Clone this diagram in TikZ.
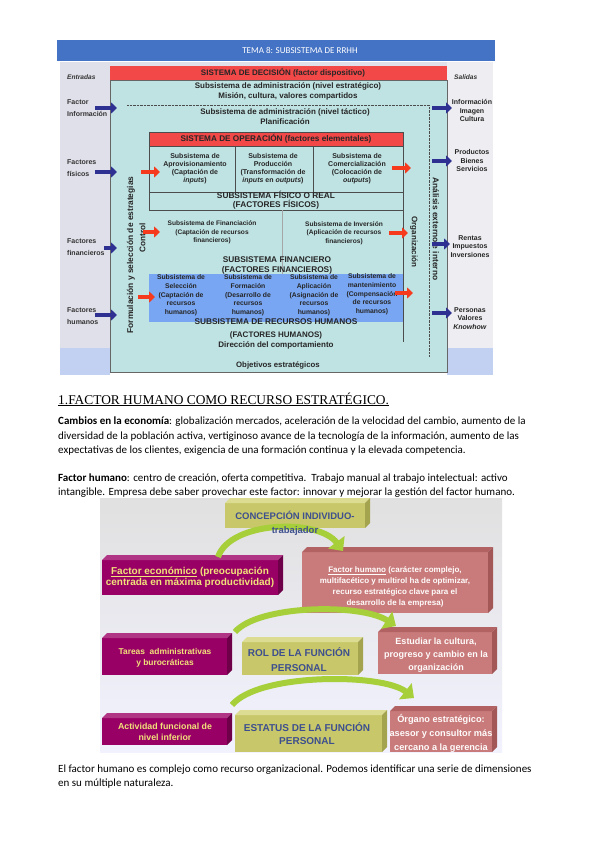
\documentclass[tikz,border=0pt]{standalone}
\usepackage{fontspec}
\setmainfont{Carlito}
\newfontfamily\arf{Liberation Sans}
\newfontfamily\serf{Liberation Serif}
\usetikzlibrary{arrows.meta,calc}
\definecolor{titleblue}{HTML}{4472C4}
\definecolor{decred}{HTML}{F24848}
\definecolor{cyanlight}{HTML}{BFE2E2}
\definecolor{humblue}{HTML}{78A6F2}
\definecolor{arrowblue}{HTML}{2E3192}
\definecolor{arrowred}{HTML}{F53A1E}
\definecolor{lgray}{HTML}{E0E0EA}
\definecolor{lgray2}{HTML}{EEEEF2}
\definecolor{lstrip}{HTML}{C2D0F2}
\definecolor{khaki}{HTML}{C8C86A}
\definecolor{khakitop}{HTML}{DCDC92}
\definecolor{khakiside}{HTML}{A4A44E}
\definecolor{magfront}{HTML}{990066}
\definecolor{magtop}{HTML}{B03585}
\definecolor{magside}{HTML}{6E0049}
\definecolor{pinkfront}{HTML}{C97B7B}
\definecolor{pinktop}{HTML}{B26262}
\definecolor{pinkside}{HTML}{A35757}
\definecolor{magtext}{HTML}{F2E27A}
\definecolor{khtext}{HTML}{3E4F8E}
\definecolor{arrowgreen}{HTML}{A6CF3A}
\newcommand\threeD[3]{%
  \fill[#2] (#1.north west) -- ([shift={(5,-5)}]#1.north west) -- ([shift={(5,-5)}]#1.north east) -- (#1.north east) -- cycle;
  \fill[#3] (#1.north east) -- ([shift={(5,-5)}]#1.north east) -- ([shift={(5,-5)}]#1.south east) -- (#1.south east) -- cycle;}
\newcommand\fs[2]{\arf\bfseries\fontsize{#1}{#2}\selectfont}
\begin{document}
\begin{tikzpicture}[x=1pt,y=-1pt,
  box/.style={anchor=north west, inner sep=0, outer sep=0},
  dt/.style={font=\fs{7}{8}, inner sep=0, align=center, text=black!85},
  ht/.style={font=\fs{6.8}{8.7}, inner sep=0, align=center, text=black!85},
  lt/.style={font=\fs{7}{12}, inner sep=0, align=left, anchor=west, text=black!80},
  rt/.style={font=\fs{7}{8.5}, inner sep=0, align=center, text=black!85},
  rot/.style={font=\fs{8.2}{9}, inner sep=0, text=black!85},
  barr/.style={draw=arrowblue, line width=3.5pt, -{Triangle[length=6pt,width=11pt]}},
  rarr/.style={draw=arrowred, line width=4pt, -{Triangle[length=6pt,width=11pt]}},
  garr/.style={draw=arrowgreen, line width=6pt, -{Triangle[length=11pt,width=20pt]}},
  magbox/.style={box, fill=magfront},
  khbox/.style={box, fill=khaki},
  pkbox/.style={box, fill=pinkfront},
  magt/.style={inner sep=0, text=magtext, align=center},
  kht/.style={inner sep=0, text=khtext, align=center},
  pkt/.style={inner sep=0, text=white!95!pink, align=center},
  para/.style={anchor=base west, inner sep=0, font=\fontsize{11}{13}\selectfont}
]
\useasboundingbox (0,0) rectangle (599,848);
\fill[white] (0,0) rectangle (599,848);

% ---------- title bar
\node[box, fill=titleblue, minimum width=438, minimum height=21] (bar) at (57,40) {};
\node[inner sep=0, text=white, font=\fontsize{9}{10}\selectfont] (bartxt) at (300,50.5) {TEMA 8: SUBSISTEMA DE RRHH};

% ---------- top diagram background
\fill[lgray] (60,62) rectangle (110,375);
\fill[lgray2] (447,62) rectangle (493,375);
\fill[lstrip] (60,348) rectangle (110,375);
\fill[lstrip] (447,348) rectangle (493,375);
\fill[lgray] (110,62) rectangle (447,66);

\node[box, fill=decred, minimum width=337, minimum height=14] (dec) at (110,66) {};
\node[dt, font=\fs{8}{9}] (dectxt) at (283,73) {SISTEMA DE DECISIÓN (factor dispositivo)};
\node[box, fill=cyanlight, draw=black!60, minimum width=337, minimum height=292] (main) at (110,80) {};

\node[dt, font=\fs{8}{10}] (adm1) at (288,91) {Subsistema de administración (nivel estratégico)\\Misión, cultura, valores compartidos};
\draw[densely dotted, black!70] (127,105) -- (429,105) -- (429,357);
\node[dt, font=\fs{8}{10}] (adm2) at (285,117) {Subsistema de administración (nivel táctico)\\Planificación};

% operation
\node[box, fill=decred, draw=black!70, minimum width=254, minimum height=14] (oph) at (149,132) {};
\node[dt, font=\fs{8.2}{9}] (ophtxt) at (276,139) {SISTEMA DE OPERACIÓN (factores elementales)};
\node[box, draw=black!70, minimum width=86, minimum height=46] (opA) at (149,146) {};
\node[box, draw=black!70, minimum width=78, minimum height=46] (opP) at (235,146) {};
\node[box, draw=black!70, minimum width=90, minimum height=46] (opC) at (313,146) {};
\node[dt] (opAt) at (195,169) {Subsistema de\\Aprovisionamiento\\(Captación de\\\textit{inputs})};
\node[dt] (opPt) at (273,169) {Subsistema de\\Producción\\(Transformación de\\\textit{inputs} en \textit{outputs})};
\node[dt] (opCt) at (357,169) {Subsistema de\\Comercialización\\(Colocación de\\\textit{outputs})};
\node[box, draw=black!70, minimum width=254, minimum height=18] (fis) at (149,192) {};
\node[dt, font=\fs{8.3}{9}] (fist) at (276,200.5) {SUBSISTEMA FÍSICO O REAL\\(FACTORES FÍSICOS)};
\draw[black!70] (fis.south east) -- (403,342);
\draw[black!35] (282,210) -- (282,315);

% financial
\node[dt, font=\fs{6.6}{8.5}] (finA) at (212,232.5) {Subsistema de Financiación\\(Captación de recursos\\financieros)};
\node[dt, font=\fs{6.6}{8.5}] (finB) at (344,233) {Subsistema de Inversión\\(Aplicación de recursos\\financieros)};
\node[dt, font=\fs{8.3}{9.5}] (fint) at (277,265.5) {SUBSISTEMA FINANCIERO\\(FACTORES FINANCIEROS)};

% human
\node[box, fill=humblue, minimum width=254, minimum height=48] (hum) at (149,274) {};
\node[ht] (h1) at (181,295.5) {Subsistema de\\Selección\\(Captación de\\recursos\\humanos)};
\node[ht] (h2) at (248,295.5) {Subsistema de\\Formación\\(Desarrollo de\\recursos\\humanos)};
\node[ht] (h3) at (314,295.5) {Subsistema de\\Aplicación\\(Asignación de\\recursos\\humanos)};
\node[ht] (h4) at (372,294.5) {Subsistema de\\mantenimiento\\(Compensación\\de recursos\\humanos)};
\node[dt, font=\fs{8.3}{9}] (humt) at (276,321.5) {SUBSISTEMA DE RECURSOS HUMANOS};
\node[dt, font=\fs{8}{10}] (humt2) at (276,340) {(FACTORES HUMANOS)\\Dirección del comportamiento};
\node[dt, font=\fs{7.8}{9}] (obj) at (278,365) {Objetivos estratégicos};

% rotated labels
\node[rot, rotate=90, font=\fs{8.4}{9}] (form) at (131,255) {Formulación y selección de estrategias};
\node[rot, rotate=90] (ctrl) at (142.5,238) {Control};
\node[rot, rotate=-90, font=\fs{8}{9}] (orgz) at (414,242) {Organización};
\node[rot, rotate=-90, font=\fs{8.4}{9}] (anal) at (436,229) {Análisis externo e interno};

% left labels
\node[lt, font=\arf\bfseries\itshape\fontsize{6.6}{7}\selectfont] (entr) at (67,77) {Entradas};
\node[lt] (lInf) at (67,108) {Factor\\Información};
\node[lt] (lFis) at (67,168) {Factores\\físicos};
\node[lt] (lFin) at (67,247.5) {Factores\\financieros};
\node[lt] (lHum) at (67,316) {Factores\\humanos};
% right labels
\node[lt, font=\arf\bfseries\itshape\fontsize{6.6}{7}\selectfont] (sal) at (454,77) {Salidas};
\node[rt] (rInf) at (472,110.5) {Información\\Imagen\\Cultura};
\node[rt] (rPro) at (472,160.5) {Productos\\Bienes\\Servicios};
\node[rt] (rRen) at (470,246.5) {Rentas\\Impuestos\\Inversiones};
\node[rt] (rPer) at (470,318.5) {Personas\\Valores\\\textit{Knowhow}};

% blue arrows
\coordinate (bi1) at (95,108); \coordinate (bo1) at (117,108);
\coordinate (bi2) at (95,172); \coordinate (bo2) at (117,172);
\coordinate (bi3) at (104,248); \coordinate (bo3) at (117,248);
\coordinate (bi4) at (95,315); \coordinate (bo4) at (117,315);
\draw[barr] (bi1) -- (bo1); \draw[barr] (bi2) -- (bo2);
\draw[barr] (bi3) -- (bo3); \draw[barr] (bi4) -- (bo4);
\coordinate (ci1) at (432,108); \coordinate (co1) at (452,108);
\coordinate (ci2) at (432,161); \coordinate (co2) at (452,161);
\coordinate (ci3) at (432,244); \coordinate (co3) at (450,244);
\coordinate (ci4) at (432,313); \coordinate (co4) at (452,313);
\draw[barr] (ci1) -- (co1); \draw[barr] (ci2) -- (co2);
\draw[barr] (ci3) -- (co3); \draw[barr] (ci4) -- (co4);
% red arrows
\coordinate (ra1) at (141,172); \coordinate (rb1) at (160,172);
\coordinate (ra2) at (392,168); \coordinate (rb2) at (411,168);
\coordinate (ra3) at (143,232); \coordinate (rb3) at (160,232);
\coordinate (ra4) at (389,233); \coordinate (rb4) at (408,233);
\coordinate (ra5) at (138,297); \coordinate (rb5) at (155,297);
\coordinate (ra6) at (395,293); \coordinate (rb6) at (413,293);
\foreach \i in {1,...,6} {\draw[rarr] (ra\i) -- (rb\i);}

% ---------- text section
\node[anchor=base west, inner sep=0, font=\serf\fontsize{13.4}{15}\selectfont] (head) at (58,404) {\underline{1.FACTOR HUMANO COMO RECURSO ESTRATÉGICO.}};
\node[para] (p1) at (58,424.5) {\textbf{Cambios en la economía}: globalización mercados, aceleración de la velocidad del cambio, aumento de la};
\node[para] (p2) at (58,439) {diversidad de la población activa, vertiginoso avance de la tecnología de la información, aumento de las};
\node[para] (p3) at (58,453.5) {expectativas de los clientes, exigencia de una formación continua y la elevada competencia.};
\node[para] (p4) at (58,481) {\textbf{Factor humano}: centro de creación, oferta competitiva.\ \ Trabajo manual al trabajo intelectual: activo};
\node[para] (p5) at (58,495) {intangible. Empresa debe saber provechar este factor: innovar y mejorar la gestión del factor humano.};

% ---------- second picture
\shade[top color=black!12!white, bottom color=blue!5!white] (100,498) rectangle (502,752);

\node[khbox, minimum width=140, minimum height=25] (conc) at (225,503) {};
\threeD{conc}{khakitop}{khakiside}
\node[kht, font=\fs{9.5}{10}] (conct) at (295,515.5) {CONCEPCIÓN INDIVIDUO-};

\node[magbox, minimum width=176, minimum height=35] (fe) at (102,560) {};
\threeD{fe}{magtop}{magside}
\node[magt, font=\fs{10}{11.2}] (fet) at (190,577.5) {\underline{Factor económico} (preocupación\\centrada en máxima productividad)};
\node[pkbox, minimum width=186, minimum height=61] (fh) at (302,552) {};
\threeD{fh}{pinktop}{pinkside}
\node[pkt, font=\fs{8}{11}] (fht) at (395,587) {\underline{Factor humano} (carácter complejo,\\multifacético y multirol ha de optimizar,\\recurso estratégico clave para el\\desarrollo de la empresa)};

\node[magbox, minimum width=125, minimum height=37] (tar) at (102,638) {};
\threeD{tar}{magtop}{magside}
\node[magt, font=\fs{8.4}{11}] (tart) at (165,657.5) {Tareas\ \ administrativas\\y burocráticas};
\node[khbox, minimum width=116, minimum height=33] (rol) at (242,642) {};
\threeD{rol}{khakitop}{khakiside}
\node[kht, font=\fs{10}{15}] (rolt) at (299,659.5) {ROL DE LA FUNCIÓN\\PERSONAL};
\node[pkbox, minimum width=114, minimum height=42] (estu) at (378,632) {};
\threeD{estu}{pinktop}{pinkside}
\node[pkt, font=\fs{9}{13}] (estut) at (436,655) {Estudiar la cultura,\\progreso y cambio en la\\organización};

\node[magbox, minimum width=125, minimum height=27] (act) at (102,718) {};
\threeD{act}{magtop}{magside}
\node[magt, font=\fs{8.8}{10.5}] (actt) at (165,732) {Actividad funcional de\\nivel inferior};
\node[khbox, minimum width=147, minimum height=37] (esta) at (235,715) {};
\threeD{esta}{khakitop}{khakiside}
\node[kht, font=\fs{10}{13}] (estat) at (307,733.5) {ESTATUS DE LA FUNCIÓN\\PERSONAL};
\node[pkbox, minimum width=102, minimum height=41] (org) at (390,711) {};
\threeD{org}{pinktop}{pinkside}
\node[pkt, font=\fs{9.2}{14}] (orgt) at (441,733) {Órgano estratégico:\\asesor y consultor más\\cercano a la gerencia};

% green arrows
\coordinate (g1s) at ([shift={(28,-3)}]fe.north); \coordinate (g1e) at ([shift={(41,-1)}]fh.north west);
\draw[garr] (g1s) .. controls (230,521) and (318,518) .. (g1e);
\node[kht, font=\fs{9.5}{10}] (trab) at (295,531) {trabajador};
\coordinate (g2s) at ([shift={(-7,-10)}]rol.north west); \coordinate (g2e) at ([shift={(18,-6)}]estu.north west);
\draw[garr] (g2s) .. controls (258,605) and (360,603) .. (g2e);
\coordinate (g3s) at ([shift={(-3,-10)}]esta.north west); \coordinate (g3e) at ([shift={(24,-13)}]org.north west);
\draw[garr] (g3s) .. controls (258,673) and (382,673) .. (g3e);

% final paragraph
\node[para] (p6) at (58,772) {El factor humano es complejo como recurso organizacional. Podemos identificar una serie de dimensiones};
\node[para] (p7) at (58,786.5) {en su múltiple naturaleza.};
\end{tikzpicture}
\end{document}
